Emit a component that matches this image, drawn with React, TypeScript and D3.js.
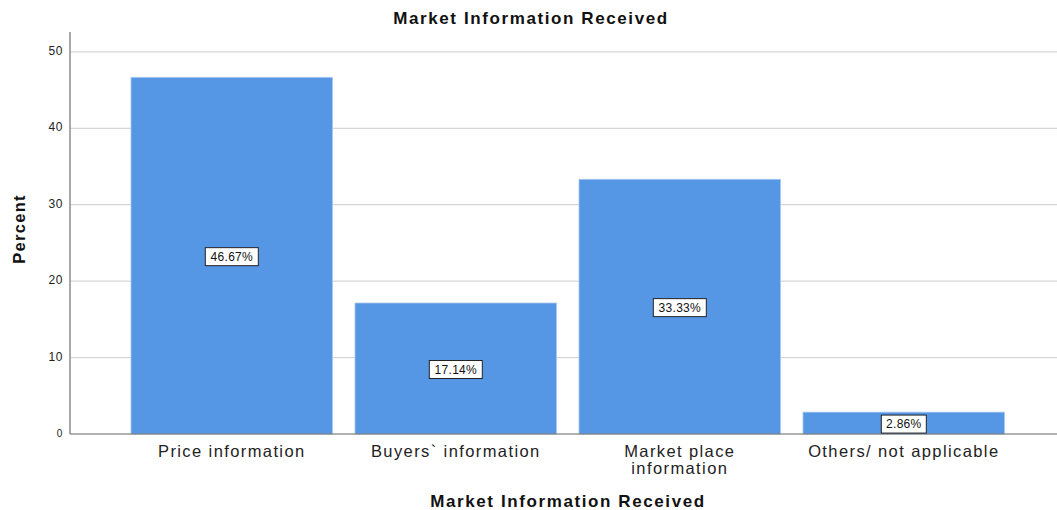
import React, { useRef, useEffect } from 'react';
import * as d3 from 'd3';

const categories = ['Price information', 'Buyers` information', 'Market place information', 'Others/ not applicable'];
const percents = [46.67, 17.14, 33.33, 2.86];
const yTicks = [0, 10, 20, 30, 40, 50];

const WIDTH = 1057;
const HEIGHT = 510;

const App: React.FC = () => {
  const svgRef = useRef<SVGSVGElement>(null);

  useEffect(() => {
    if (!svgRef.current) return;
    const svg = d3.select(svgRef.current);
    svg.selectAll('*').remove();

    const font = 'Liberation Sans, Arial, sans-serif';
    const axisX = 70;
    const x = d3.scaleBand<string>()
      .domain(categories)
      .range([108.6, 1027])
      .paddingInner(0.1)
      .paddingOuter(0.1);
    const y = d3.scaleLinear().domain([0, 52.6]).range([434, 32]);

    // Gridlines
    svg.append('g')
      .selectAll('line')
      .data(yTicks.filter(d => d > 0))
      .enter()
      .append('line')
      .attr('x1', axisX)
      .attr('x2', WIDTH)
      .attr('y1', d => y(d))
      .attr('y2', d => y(d))
      .attr('stroke', '#d6d6d6')
      .attr('stroke-width', 1.2);

    // Bars
    svg.append('g')
      .selectAll('rect')
      .data(percents)
      .enter()
      .append('rect')
      .attr('x', (d, i) => x(categories[i])!)
      .attr('y', d => y(d))
      .attr('width', x.bandwidth())
      .attr('height', d => y(0) - y(d))
      .attr('fill', '#5596e5')
      .attr('stroke', '#a9c8f0')
      .attr('stroke-width', 0.8);

    // Axes lines
    svg.append('line')
      .attr('x1', axisX).attr('x2', axisX)
      .attr('y1', y(52.6)).attr('y2', y(0))
      .attr('stroke', '#8c8c8c').attr('stroke-width', 1.5);
    svg.append('line')
      .attr('x1', axisX).attr('x2', WIDTH)
      .attr('y1', y(0)).attr('y2', y(0))
      .attr('stroke', '#666').attr('stroke-width', 1);

    // Y tick labels
    svg.append('g')
      .selectAll('text')
      .data(yTicks)
      .enter()
      .append('text')
      .attr('x', 63)
      .attr('y', d => y(d))
      .attr('text-anchor', 'end')
      .attr('dominant-baseline', 'middle')
      .attr('font-family', font)
      .attr('font-size', d => (d === 0 ? '10px' : '12px'))
      .attr('letter-spacing', 0.6)
      .attr('fill', '#222')
      .text(d => d.toString());

    // Category labels
    const catLabels = svg.append('g')
      .selectAll('text')
      .data(categories)
      .enter()
      .append('text')
      .attr('x', d => x(d)! + x.bandwidth() / 2)
      .attr('y', 457)
      .attr('text-anchor', 'middle')
      .attr('font-family', font)
      .attr('font-size', '16.5px')
      .attr('letter-spacing', 1.4)
      .attr('fill', '#222');
    catLabels.each(function (d) {
      const t = d3.select(this);
      const lines = d === 'Market place information' ? ['Market place', 'information'] : [d];
      lines.forEach((ln, j) => {
        t.append('tspan')
          .attr('x', x(d)! + x.bandwidth() / 2)
          .attr('dy', j === 0 ? 0 : 16.5)
          .text(ln);
      });
    });

    // Value labels
    const vl = svg.append('g')
      .selectAll('g')
      .data(percents)
      .enter()
      .append('g')
      .attr('transform', (d, i) => `translate(${x(categories[i])! + x.bandwidth() / 2},${(y(d) + y(0)) / 2 + 1})`);
    vl.append('rect')
      .attr('x', d => (d >= 10 ? -26.5 : -22.5))
      .attr('y', -9)
      .attr('width', d => (d >= 10 ? 53 : 45))
      .attr('height', 18)
      .attr('fill', '#fff')
      .attr('stroke', '#222')
      .attr('stroke-width', 1);
    vl.append('text')
      .attr('text-anchor', 'middle')
      .attr('dominant-baseline', 'central')
      .attr('font-family', font)
      .attr('font-size', '12px')
      .attr('letter-spacing', 0.3)
      .attr('fill', '#111')
      .text(d => `${d.toFixed(2)}%`);

    // Title
    svg.append('text')
      .attr('x', 531)
      .attr('y', 24)
      .attr('text-anchor', 'middle')
      .attr('font-family', font)
      .attr('font-size', '17px')
      .attr('font-weight', 'bold')
      .attr('letter-spacing', 1.6)
      .attr('fill', '#111')
      .text('Market Information Received');

    // X axis title
    svg.append('text')
      .attr('x', 568)
      .attr('y', 507)
      .attr('text-anchor', 'middle')
      .attr('font-family', font)
      .attr('font-size', '17px')
      .attr('font-weight', 'bold')
      .attr('letter-spacing', 1.6)
      .attr('fill', '#111')
      .text('Market Information Received');

    // Y axis title
    svg.append('text')
      .attr('transform', `translate(25,229) rotate(-90)`)
      .attr('text-anchor', 'middle')
      .attr('font-family', font)
      .attr('font-size', '16.5px')
      .attr('font-weight', 'bold')
      .attr('letter-spacing', 1.3)
      .attr('fill', '#111')
      .text('Percent');
  }, []);

  return <svg ref={svgRef} width={WIDTH} height={HEIGHT} style={{ display: 'block', position: 'absolute', left: 0, top: 0, background: '#fff' }} />;
};

export default App;
